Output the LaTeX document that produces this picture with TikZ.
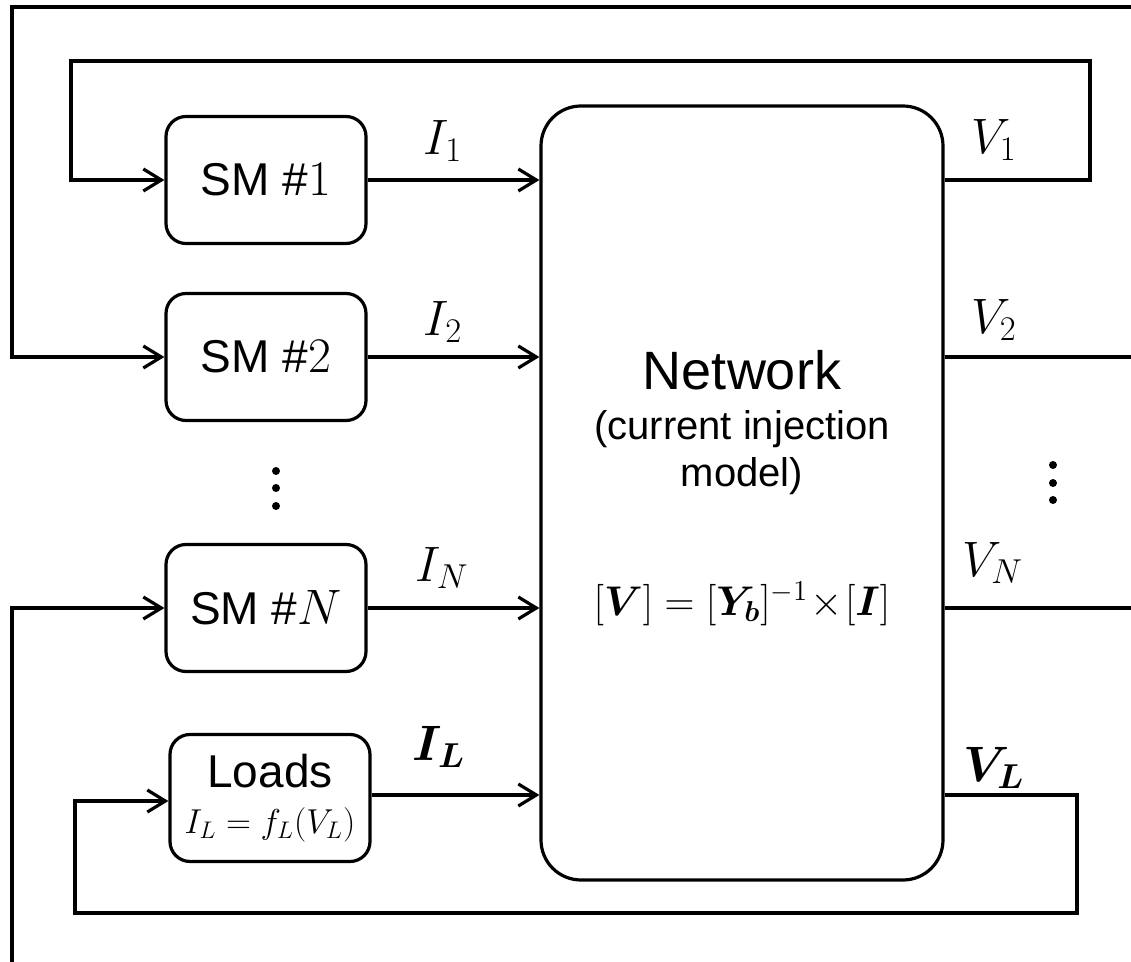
\documentclass[tikz,border=0pt]{standalone}
\usepackage{fontspec}
\setmainfont{Liberation Sans}
\usepackage{bm}
\usetikzlibrary{positioning, arrows.meta}

\tikzset{
  block/.style={draw, line width=1.6pt, rounded corners=10pt, minimum width=100pt, minimum height=63.5pt, align=center, font=\fontsize{23}{27}\selectfont},
  link/.style={line width=1.6pt},
  arr/.style={link, -{Straight Barb[length=9pt,width=11pt]}},
  lbl/.style={font=\fontsize{24}{28}\selectfont, inner sep=0pt},
}

\begin{document}
\begin{tikzpicture}[x=0.5pt, y=-0.5pt]
        \useasboundingbox (0,0) rectangle (1131,962);

        % blocks
        \node[block] (sm1) at (266,180) {SM \#$1$};
        \node[block] (sm2) at (266,357) {SM \#$2$};
        \node[block] (smN) at (266,608) {SM \#$N$};
        \node[block] (loads) at (270,798) {Loads\\[-4pt]{\fontsize{17}{20}\selectfont $I_L=f_L(V_L)$}};
        \node[draw, line width=1.6pt, rounded corners=20pt, minimum width=201pt, minimum height=387pt] (net) at (742,493) {};

        % network text
        \node[font=\fontsize{27}{32}\selectfont] (nettitle) at (742,370) {Network};
        \node[font=\fontsize{20}{23.5}\selectfont, align=center] (netsub) at (742,453) {(current injection\\model)};
        \node[font=\fontsize{21}{25}\selectfont] (neteq) at (742,604) {$[\bm{V}] = [\bm{Y_b}]^{-1}\!\times\![\bm{I}]$};

        % free ends
        \coordinate (v2end) at (1131,357);
        \coordinate (vNend) at (1131,608);
        \coordinate (topend) at (1131,7);
        \coordinate (botend) at (12,962);
        \coordinate (loadout) at ([yshift=1.5pt]loads.east);
        \coordinate (loadin) at ([yshift=-1.5pt]loads.west);

        % currents into the network
        \draw[arr] (sm1.east) -- (sm1.east -| net.west);
        \draw[arr] (sm2.east) -- (sm2.east -| net.west);
        \draw[arr] (smN.east) -- (smN.east -| net.west);
        \draw[arr] (loadout) -- (loadout -| net.west);

        % voltages back
        \draw[arr] (net.east |- sm1.east) -- (1090,180) |- (71,61) |- (sm1.west);
        \draw[link] (net.east |- sm2.east) -- (v2end);
        \draw[arr] (topend) -| (12,357) -- (sm2.west);
        \draw[link] (net.east |- smN.east) -- (vNend);
        \draw[arr] (botend) |- (smN.west);
        \draw[arr] (net.east |- loadout) -- (1077,795) |- (75,913) |- (loadin);

        % labels
        \node[lbl] (i1) at (443,141) {$I_1$};
        \node[lbl] (i2) at (443,322) {$I_2$};
        \node[lbl] (iN) at (442,568) {$I_N$};
        \node[lbl] (iL) at (439,747) {$\bm{I_L}$};
        \node[lbl] (v1) at (994,140) {$V_1$};
        \node[lbl] (v2) at (994,320) {$V_2$};
        \node[lbl] (vN) at (993,563) {$V_N$};
        \node[lbl] (vL) at (994,768) {$\bm{V_L}$};

        % dots
        \foreach \y in {471,488,506} \fill (276,\y) circle (2pt);
        \foreach \y in {465,483,500} \fill (1053,\y) circle (2pt);
    \end{tikzpicture}
\end{document}
